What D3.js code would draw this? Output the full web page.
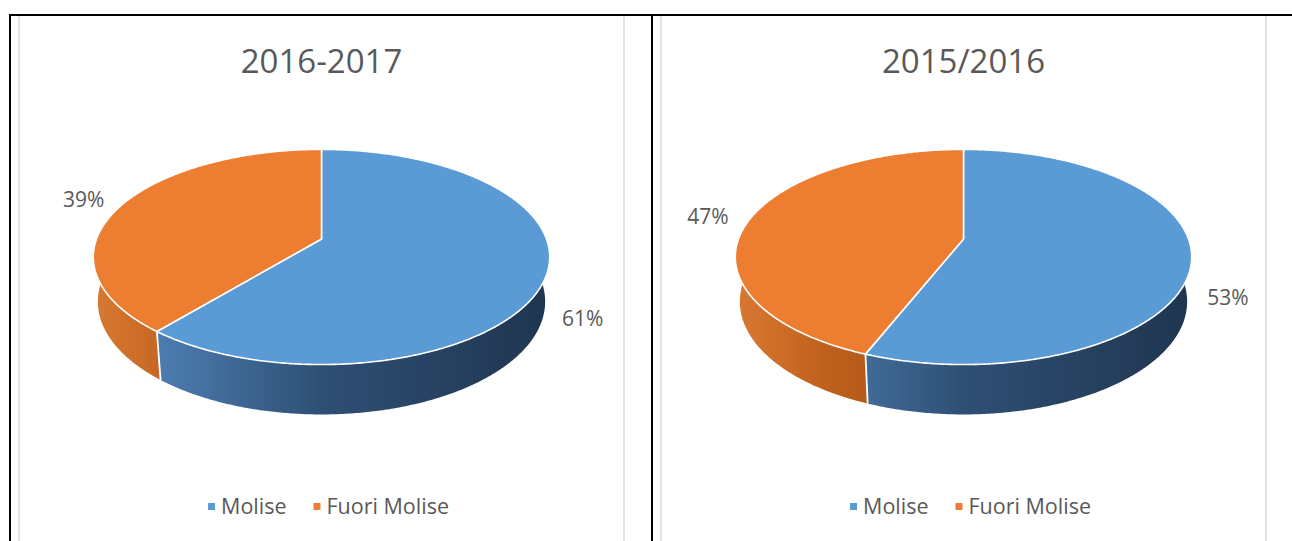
<!DOCTYPE html>
<html>
<head>
<meta charset="utf-8">
<script src="https://cdn.jsdelivr.net/npm/d3@7"></script>
<style>
  body { margin: 0; background: #fff; }
  text { font-family: "Open Sans", "Noto Sans", sans-serif; fill: #595959; }
</style>
</head>
<body>
<div id="chart"></div>
<script>
const width = 1292;
const height = 541;

// data
const categories = ["Molise", "Fuori Molise"];
const titles = ["2016-2017", "2015/2016"];
const shares1617 = [61, 39];
const shares1516 = [56, 44]; // slice sizes as drawn in the picture
const labels1617 = ["61%", "39%"];
const labels1516 = ["53%", "47%"];

const topColor = d3.scaleOrdinal(categories, ["#5b9bd5", "#ed7d31"]);
// side shading, t = 1 lit from the left, 0 in shadow on the right
const sideColor = {
  "Molise": d3.scaleLinear([0, 0.5, 0.82, 1], ["#1f3550", "#2e4f74", "#4a79ab", "#5387bf"]),
  "Fuori Molise": d3.scaleLinear([0, 0.5, 0.8, 1], ["#7a3a0d", "#a24d12", "#bf601d", "#d87a33"])
};

// 3d view settings (units = pie radius)
const radiusPx = 225;
const camDist = 5.3;
const tilt = 27.7 * Math.PI / 180;
const thick = 0.226;
const focal = radiusPx * camDist;

const svg = d3
  .select("#chart")
  .append("svg")
  .attr("width", width)
  .attr("height", height);
const defs = svg.append("defs");

// table lines and chart frames
svg.selectAll(".frame")
  .data([19, 624, 661, 1266])
  .enter()
  .append("line")
  .attr("x1", d => d).attr("x2", d => d)
  .attr("y1", 16).attr("y2", height)
  .attr("stroke", "#d9d9d9")
  .attr("stroke-width", 1.5);

svg.append("line").attr("x1", 9).attr("x2", width).attr("y1", 15).attr("y2", 15)
  .attr("stroke", "#000").attr("stroke-width", 2);
svg.selectAll(".vline")
  .data([10, 652])
  .enter()
  .append("line")
  .attr("x1", d => d).attr("x2", d => d)
  .attr("y1", 14).attr("y2", height)
  .attr("stroke", "#000").attr("stroke-width", 2);

const panels = [
  { id: "a", title: titles[0], shares: shares1617, labels: labels1617, x0: 19, x1: 624 },
  { id: "b", title: titles[1], shares: shares1516, labels: labels1516, x0: 661, x1: 1266 }
];

panels.forEach(p => drawPie(p));

function drawPie(p) {
  const cx = (p.x0 + p.x1) / 2;
  const cy = 239;
  const g = svg.append("g");

  const project = (x, y, z) => {
    const w = camDist + z * Math.cos(tilt) - y * Math.sin(tilt);
    return [cx + focal * x / w, cy - focal * (z * Math.sin(tilt) + y * Math.cos(tilt)) / w];
  };
  const rim = (a, y, k = 1) => project(k * Math.sin(a), y, k * Math.cos(a));

  const arcs = d3.pie().sort(null).value(d => d)(p.shares);
  arcs.forEach((a, i) => (a.cat = categories[i]));
  const line = d3.line();
  const step = Math.PI / 360;

  // horizontal gradients for the side wall
  const half = radiusPx * 1.02;
  categories.forEach((c, i) => {
    const grad = defs.append("linearGradient")
      .attr("id", `side-${p.id}-${i}`)
      .attr("gradientUnits", "userSpaceOnUse")
      .attr("x1", cx - half).attr("x2", cx + half)
      .attr("y1", 0).attr("y2", 0);
    d3.range(0, 1.001, 0.05).forEach(u => {
      grad.append("stop")
        .attr("offset", u)
        .attr("stop-color", sideColor[c](1 - u));
    });
  });

  // side wall, front part of each slice
  g.selectAll(".side")
    .data(arcs)
    .enter()
    .append("path")
    .attr("d", a => {
      const ts = [];
      for (let t = a.startAngle; t < a.endAngle; t += step) {
        if (Math.cos(t) < 0.05) ts.push(t);
      }
      if (Math.cos(a.endAngle) < 0.05) ts.push(a.endAngle);
      if (ts.length < 2) return null;
      const pts = ts.map(t => rim(t, 0)).concat(ts.slice().reverse().map(t => rim(t, -thick)));
      return line(pts) + "Z";
    })
    .attr("fill", (a, i) => `url(#side-${p.id}-${i})`);

  // white edges where slices meet on the front wall
  g.selectAll(".edge")
    .data(arcs.filter(a => Math.cos(a.startAngle) < -0.2))
    .enter()
    .append("path")
    .attr("d", a => line([rim(a.startAngle, 0), rim(a.startAngle, -thick)]))
    .attr("stroke", "#fff")
    .attr("stroke-width", 1.8);

  // top faces
  g.selectAll(".top")
    .data(arcs)
    .enter()
    .append("path")
    .attr("d", a => {
      const pts = [project(0, 0, 0)];
      for (let t = a.startAngle; t < a.endAngle; t += step) pts.push(rim(t, 0));
      pts.push(rim(a.endAngle, 0));
      return line(pts) + "Z";
    })
    .attr("fill", a => topColor(a.cat))
    .attr("stroke", "#fff")
    .attr("stroke-width", 1.6)
    .attr("stroke-linejoin", "round");

  // data labels
  g.selectAll(".lbl")
    .data(arcs)
    .enter()
    .append("text")
    .attr("transform", a => {
      const m = (a.startAngle + a.endAngle) / 2;
      const y = Math.sin(m) > 0 ? -thick * 0.75 : 0;
      return `translate(${rim(m, y, Math.sin(m) > 0 ? 1.17 : 1.2)})`;
    })
    .attr("text-anchor", "middle")
    .attr("dominant-baseline", "central")
    .style("font-size", "21px")
    .text((a, i) => p.labels[i]);

  // title
  g.append("text")
    .attr("x", cx)
    .attr("y", 73)
    .attr("text-anchor", "middle")
    .style("font-size", "33px")
    .text(p.title);

  // legend
  const legend = g.append("g");
  let xPos = 0;
  categories.forEach(c => {
    const item = legend.append("g").attr("transform", `translate(${xPos}, 0)`);
    item.append("rect")
      .attr("x", 0).attr("y", -11)
      .attr("width", 7).attr("height", 7)
      .attr("fill", topColor(c));
    const t = item.append("text")
      .attr("x", 13).attr("y", 0)
      .style("font-size", "21.5px")
      .text(c);
    xPos += 13 + t.node().getComputedTextLength() + 27;
  });
  const legendW = xPos - 27;
  legend.attr("transform", `translate(${cx - legendW / 2 + 7}, 514)`);
}
</script>
</body>
</html>
